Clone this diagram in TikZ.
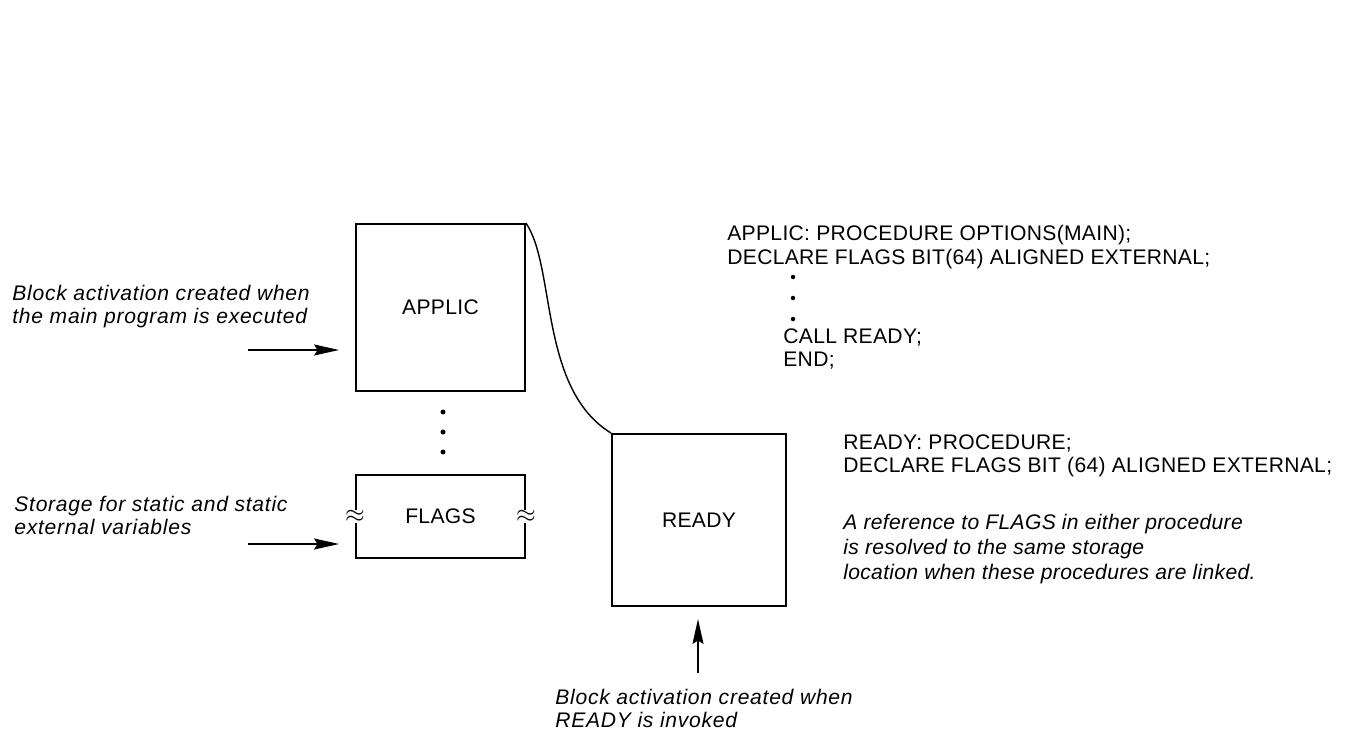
\documentclass[tikz,border=0pt]{standalone}
\usepackage{fontspec}
\setmainfont{Liberation Sans}[LetterSpace=1.5]
\newfontfamily\notefont{Liberation Sans}[LetterSpace=3.5]
\usetikzlibrary{arrows.meta, positioning}
\tikzstyle{block} = [rectangle, draw=black, line width=1.1pt, inner sep=0pt, font=\fontsize{12}{14}\selectfont]
\tikzstyle{arrow} = [line width=1.1pt, -{Stealth[length=0.5cm, width=0.22cm, inset=0.07cm]}]

\begin{document}
\begin{tikzpicture}[x=0.02cm, y=-0.02cm,
    code/.style={inner sep=0pt, align=left, font=\fontsize{12}{13.4}\selectfont},
    note/.style={inner sep=0pt, align=left, font=\fontsize{12}{13.4}\selectfont\notefont\itshape},
    dot/.style={circle, fill=black, inner sep=0pt, minimum size=0.1cm}]
    \useasboundingbox (0,0) rectangle (1347,734);
    \node[block, minimum width=3.38cm, minimum height=3.34cm] (applic) at (440.5,307.5) {APPLIC};
    \node[block, minimum width=3.38cm, minimum height=1.66cm] (flags) at (440.5,516.5) {FLAGS};
    \node[block, minimum width=3.48cm, minimum height=3.44cm] (ready) at (699,520) {READY};
    % dots between APPLIC and FLAGS
    \foreach \y in {412,432,452} \node[dot] at (443,\y) {};
    % broken sides of FLAGS
    \node[fill=white, inner sep=0pt, font=\Large] (wl) at (flags.west) {$\approx$};
    \node[fill=white, inner sep=0pt, font=\Large] (wr) at (flags.east) {$\approx$};
    % link between the procedures
    \draw[line width=0.8pt] (applic.north east) .. controls +(30,44) and +(-72,-44) .. (ready.north west);
    \coordinate (s1) at (248,350);
    \coordinate (s2) at (248,544);
    \coordinate (s3) at (698,673);
    \draw[arrow, shorten >=0.32cm] (s1) -- (s1 -| applic.west);
    \draw[arrow, shorten >=0.32cm] (s2) -- (s2 -| flags.west);
    \draw[arrow, shorten >=0.24cm] (s3) -- (s3 |- ready.south);
    \node[note, anchor=west] (t1) at (12,306.5) {Block activation created when\\the main program is executed};
    \node[note, anchor=west] (t2) at (14,515.5) {Storage for static and static\\external variables};
    \node[note, anchor=west] (t3) at (555,708.5) {Block activation created when\\READY is invoked};
    % program text
    \node[code, anchor=west] (c1) at (727,247) {APPLIC: PROCEDURE OPTIONS(MAIN);\\DECLARE FLAGS BIT(64) ALIGNED EXTERNAL;};
    \foreach \y in {277,298,319} \node[dot, minimum size=0.09cm] at (793,\y) {};
    \node[code, anchor=west] (c2) at (783,349) {CALL READY;\\END;};
    \node[code, anchor=west] (c3) at (843,456) {READY: PROCEDURE;\\DECLARE FLAGS BIT (64) ALIGNED EXTERNAL;};
    \node[code, anchor=west, font=\fontsize{12}{14.2}\selectfont\itshape] (c4) at (843,549) {A reference to FLAGS in either procedure\\is resolved to the same storage\\location when these procedures are linked.};
\end{tikzpicture}
\end{document}
